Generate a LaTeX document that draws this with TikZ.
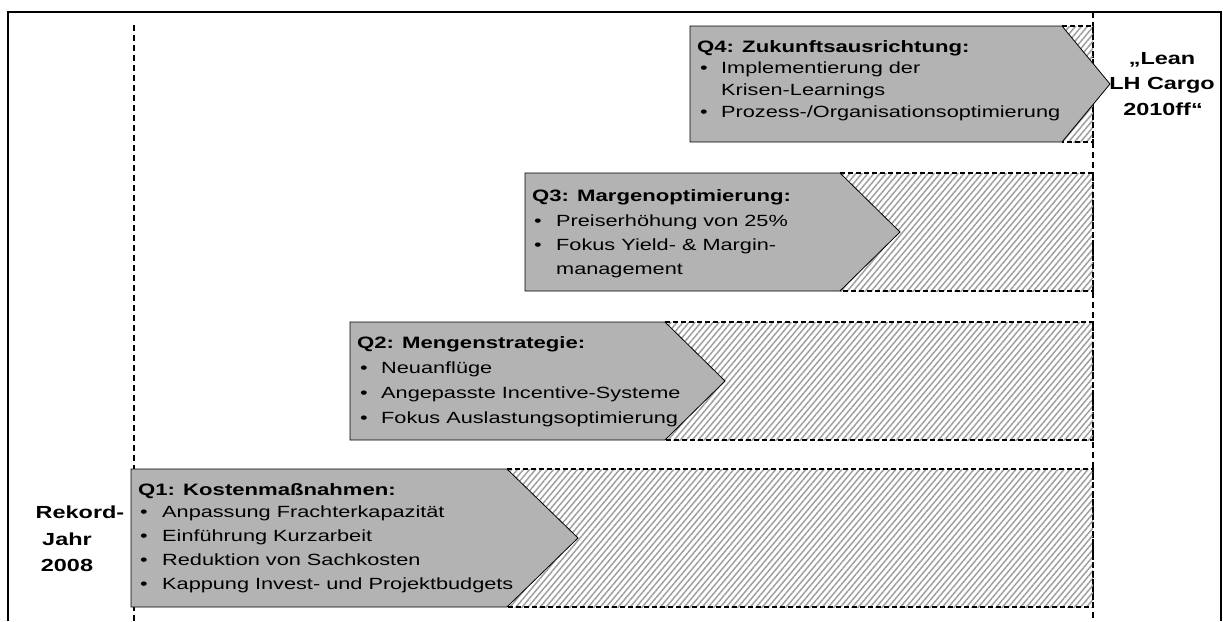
\documentclass[tikz,border=0pt]{standalone}
\usepackage{fontspec}
\setmainfont{Liberation Sans}[FakeStretch=1.34]
\usetikzlibrary{patterns.meta}
\definecolor{boxgray}{RGB}{179,179,179}
\definecolor{hatchgray}{RGB}{160,160,160}
\newcommand{\stagebar}[5]{% #1 left, #2 top, #3 bottom, #4 corner, #5 tip
  \fill[hatchbox] (#4,#2) rectangle (1093,#3);
  \draw[hatchedge] (#4,#2) -- (1093,#2) -- (1093,#3) -- (#4,#3);
  \filldraw[grayarrow] (#1,#2) -- (#4,#2) -- (#5,{(#2+#3)/2}) -- (#4,#3) -- (#1,#3) -- cycle;
}
\begin{document}
\begin{tikzpicture}[x=1pt,y=-1pt,
  txt/.style={inner sep=0pt, anchor=base west, font=\fontsize{16.2}{19}\selectfont},
  ttl/.style={inner sep=0pt, anchor=base west, font=\fontsize{16.5}{20}\selectfont\bfseries},
  lbl/.style={inner sep=0pt, anchor=base, font=\fontsize{17.5}{21}\selectfont\bfseries},
  grayarrow/.style={fill=boxgray, draw=black, line width=0.8pt},
  hatchbox/.style={pattern={Lines[angle=50,distance=4.6pt,line width=1.5pt]}, pattern color=hatchgray},
  hatchedge/.style={draw=black, line width=1.4pt, dash pattern=on 5pt off 3pt},
  timeline/.style={draw=black, line width=2.5pt, dash pattern=on 6pt off 4pt},
  frame/.style={draw=black, line width=2pt}
]
\useasboundingbox (0,0) rectangle (1223,621);
\fill[white] (0,0) rectangle (1223,621);
% outer frame
\draw[frame] (8,621) -- (8,12) -- (1221,12) -- (1221,621);
% time lines
\coordinate (ls) at (134,25);
\coordinate (le) at (134,621);
\coordinate (rs) at (1093,12);
\coordinate (re) at (1093,621);
\draw[timeline] (ls) -- (le);
\draw[timeline] (rs) -- (re);

% bars
\stagebar{131}{469}{607}{507}{578}
\stagebar{350}{322}{440}{665}{725}
\stagebar{525}{173}{291}{840}{900}
\stagebar{690}{26}{142}{1062}{1110}

% Q1
\node[ttl] (q1t) at (138,495) {Q1: Kostenmaßnahmen:};
\node[txt] (q1b1) at (140,517) {•};
\node[txt] (q1a) at (162,517) {Anpassung Frachterkapazität};
\node[txt] (q1b2) at (140,541) {•};
\node[txt] (q1b) at (162,541) {Einführung Kurzarbeit};
\node[txt] (q1b3) at (140,565) {•};
\node[txt] (q1c) at (162,565) {Reduktion von Sachkosten};
\node[txt] (q1b4) at (140,589) {•};
\node[txt] (q1d) at (162,589) {Kappung Invest- und Projektbudgets};

% Q2
\node[ttl] (q2t) at (357,348) {Q2: Mengenstrategie:};
\node[txt] (q2b1) at (360,373) {•};
\node[txt] (q2a) at (381,373) {Neuanflüge};
\node[txt] (q2b2) at (360,398) {•};
\node[txt] (q2b) at (381,398) {Angepasste Incentive-Systeme};
\node[txt] (q2b3) at (360,423) {•};
\node[txt] (q2c) at (381,423) {Fokus Auslastungsoptimierung};

% Q3
\node[ttl] (q3t) at (532,201) {Q3: Margenoptimierung:};
\node[txt] (q3b1) at (534,226) {•};
\node[txt] (q3a) at (556,226) {Preiserhöhung von 25\%};
\node[txt] (q3b2) at (534,250) {•};
\node[txt] (q3b) at (556,250) {Fokus Yield- \& Margin-};
\node[txt] (q3c) at (556,274) {management};

% Q4
\node[ttl] (q4t) at (697,52) {Q4: Zukunftsausrichtung:};
\node[txt] (q4b1) at (700,73) {•};
\node[txt] (q4a) at (721,73) {Implementierung der};
\node[txt] (q4b) at (721,95) {Krisen-Learnings};
\node[txt] (q4b2) at (700,117) {•};
\node[txt] (q4c) at (721,117) {Prozess-/Organisationsoptimierung};

% side labels
\node[lbl] (r1) at (80,518) {Rekord-};
\node[lbl] (r2) at (67,545) {Jahr};
\node[lbl] (r3) at (67,571) {2008};
\node[lbl] (g1) at (1162,64) {„Lean};
\node[lbl] (g2) at (1162,89) {LH Cargo};
\node[lbl] (g3) at (1163,115) {2010ff“};
\end{tikzpicture}
\end{document}
